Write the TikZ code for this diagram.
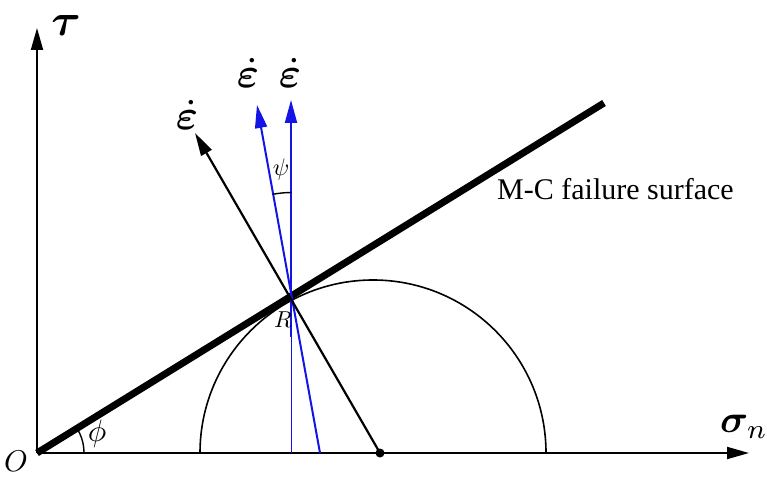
\documentclass[tikz,border=0pt]{standalone}
\usepackage{bm}
\usepackage{fontspec}
\setmainfont{Liberation Serif}
\usetikzlibrary{arrows.meta,calc}
\definecolor{vecblue}{RGB}{20,20,230}
\tikzset{
  axis/.style={line width=1.8pt,-{Triangle[length=22pt,width=12pt]}},
  vecarrow/.style={line width=2pt,-{Triangle[length=23pt,width=12pt]}},
  lbl/.style={inner sep=0pt},
}
\begin{document}
\begin{tikzpicture}[x=1pt,y=1pt]
\useasboundingbox (0,0) rectangle (767,476);
% key points
\coordinate (O) at (37,23);
\coordinate (Ttip) at (37,448);
\coordinate (Stip) at (749,23);
\coordinate (MCend) at (604,373);
\coordinate (R) at (291,179.5);
\coordinate (C) at (380,23);
\coordinate (Ntip) at (195,343);
\coordinate (Vtip) at (291,376);
\coordinate (Vmid) at (291,139);
\coordinate (Vbase) at (291,23);
\coordinate (Sbase) at (320,23);
\coordinate (Stilt) at (257,371);
\coordinate (Ccirc) at (373,23);
% axes
\draw[axis] (O) -- (Ttip);
\draw[axis] (O) -- (Stip);
% M-C failure line
\draw[line width=7pt] (O) -- (MCend);
% Mohr semicircle
\draw[line width=1.6pt] ($(Ccirc)+(173,0)$) arc[start angle=0,end angle=180,radius=173];
% phi arc
\draw[line width=1.4pt] ($(O)+(47,0)$) arc[start angle=0,end angle=31.6,radius=47];
% blue vectors
\draw[vecblue,line width=0.9pt] (Vbase) -- (Vmid);
\draw[vecblue,vecarrow] (Vmid) -- (Vtip);
\draw[vecblue,vecarrow] (Sbase) -- (Stilt);
% psi arc
\draw[line width=1.4pt] ($(R)+(0.5,104)$) arc[start angle=90.3,end angle=100.6,radius=104];
% normal (black) vector
\draw[vecarrow,line width=2.2pt] (C) -- (Ntip);
\fill (C) circle[radius=4.5];
% labels
\node[lbl,scale=4.5] (tau) at (66,450) {$\bm{\tau}$};
\node[lbl,scale=3.9] (sig) at (744,49) {$\bm{\sigma}_n$};
\node[lbl,scale=3.0] (olbl) at (16,15) {$O$};
\node[lbl,scale=3.1] (phi) at (97,42) {$\phi$};
\node[lbl,scale=2.4] (psi) at (281,306) {$\psi$};
\node[lbl,scale=2.3] (rlbl) at (283,156) {$R$};
\node[lbl,scale=4.2] (e1) at (187,361) {$\dot{\bm{\varepsilon}}$};
\node[lbl,scale=4.2] (e2) at (248,403) {$\dot{\bm{\varepsilon}}$};
\node[lbl,scale=4.2] (e3) at (290,403) {$\dot{\bm{\varepsilon}}$};
\node[lbl,anchor=base west] (mc) at (497,276) {\fontsize{30}{36}\selectfont M-C failure surface};
\end{tikzpicture}
\end{document}
